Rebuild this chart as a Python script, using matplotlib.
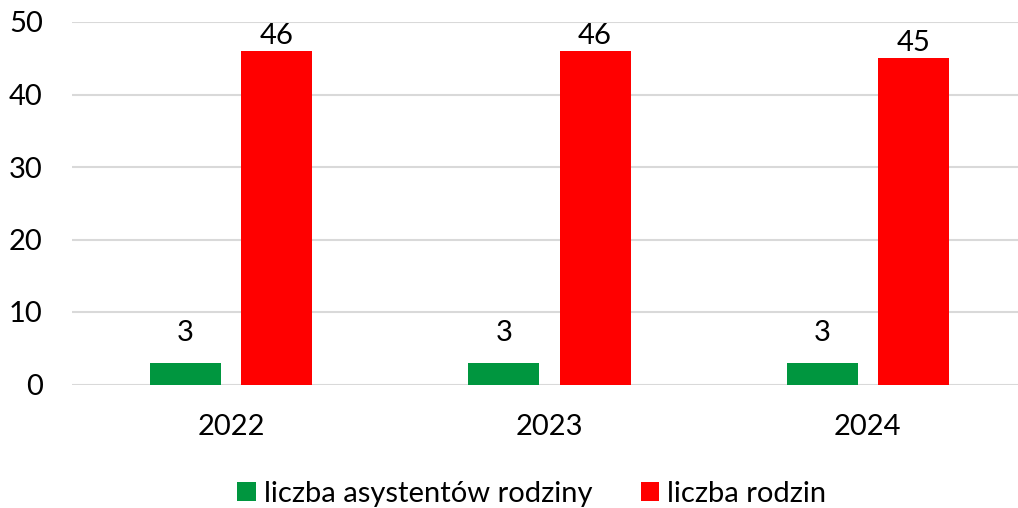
import matplotlib
matplotlib.use("Agg")
import matplotlib.pyplot as plt
import numpy as np

years = ["2022", "2023", "2024"]
asystenci = [3, 3, 3]
rodziny = [46, 46, 45]
series_names = ["liczba asystentów rodziny", "liczba rodzin"]

plt.rcParams['font.family'] = ['Lato', 'DejaVu Sans']

fig = plt.figure(figsize=(10.18, 5.08), dpi=100)
ax = fig.add_axes([72/1018, 1-384.5/508, 955/1018, (384.5-22)/508])

x = np.arange(len(years))
w = 0.223
off = 0.143
b1 = ax.bar(x - off, asystenci, w, color="#00963f", label=series_names[0], zorder=3)
b2 = ax.bar(x + off, rodziny, w, color="#ff0000", label=series_names[1], zorder=3)

fs = 21
ax.bar_label(b1, padding=12, fontsize=fs, color="black")
ax.bar_label(b2, padding=1.5, fontsize=fs, color="black")

ax.set_xlim(-0.5, 2.5)
ax.set_ylim(0, 50)
ax.set_yticks([0, 10, 20, 30, 40, 50])
ax.set_xticks(x)
ax.set_xticklabels(years)
ax.tick_params(axis='both', length=0, labelsize=fs)
ax.tick_params(axis='y', pad=21)
ax.tick_params(axis='x', pad=21)
ax.grid(axis='y', color="#d9d9d9", linewidth=1.5, zorder=0)
for s in ax.spines.values():
    s.set_visible(False)

fig.legend(handles=[b1, b2], labels=series_names, loc="center", bbox_to_anchor=(532/1018, 1-494/508),
           ncol=2, frameon=False, fontsize=fs, handlelength=0.62, handleheight=0.62,
           handletextpad=0.28, columnspacing=1.68, borderpad=0, borderaxespad=0)

fig.savefig("out.png", dpi=100)
